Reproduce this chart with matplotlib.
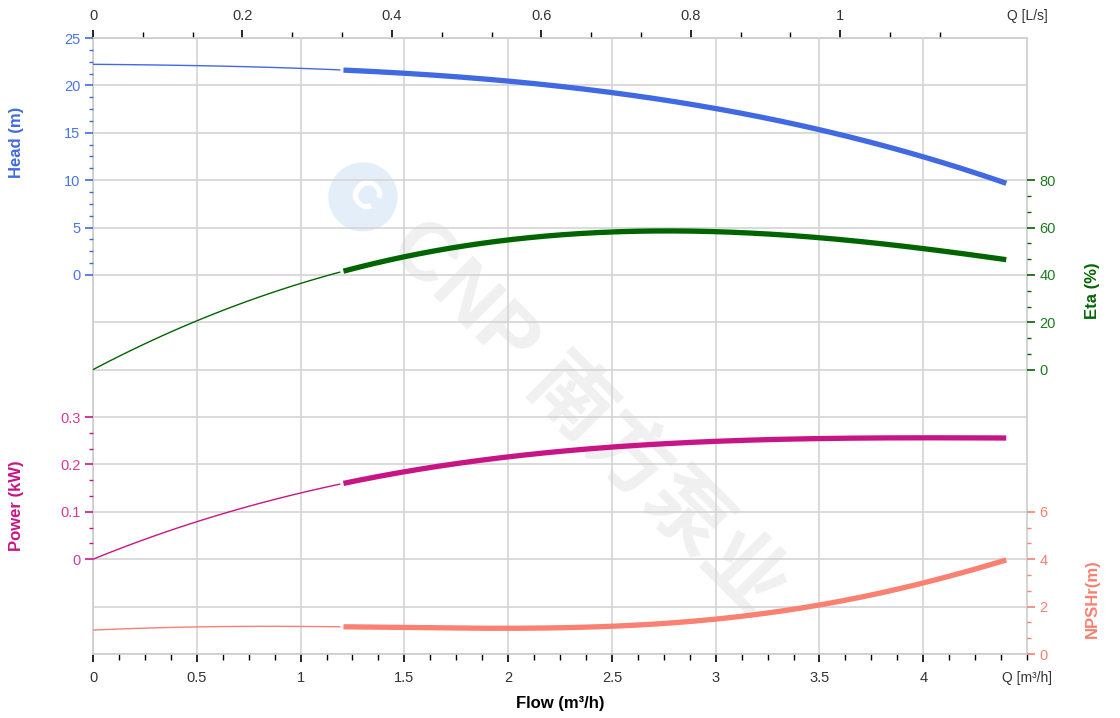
import numpy as np
import matplotlib
matplotlib.use("Agg")
import matplotlib.pyplot as plt
from matplotlib.ticker import FixedLocator, MultipleLocator, FuncFormatter

plt.rcParams['font.family'] = ['Liberation Sans', 'Noto Sans CJK SC', 'DejaVu Sans']

# curve data (flow in m3/h)
flow = [0, 0.5, 1.0, 1.2, 1.5, 2.0, 2.5, 2.8, 3.0, 3.5, 4.0, 4.4]
head = [22.2, 22.1, 21.9, 21.6, 21.2, 20.4, 19.2, 18.4, 17.6, 15.3, 12.4, 9.7]
eta = [0, 21, 35, 42, 48.4, 54.8, 57.7, 58.6, 58.3, 55.6, 51.4, 46.3]
power = [0, 0.079, 0.14, 0.159, 0.186, 0.214, 0.237, 0.245, 0.25, 0.254, 0.256, 0.256]
npsh = [1.01, 1.14, 1.18, 1.14, 1.1, 1.1, 1.18, 1.3, 1.48, 2.07, 3.0, 3.97]
duty_start = 1.2  # thin line before, thick line after

flow_ticks = [0, 0.5, 1, 1.5, 2, 2.5, 3, 3.5, 4]
ls_ticks = [0, 0.2, 0.4, 0.6, 0.8, 1.0]

c_head = '#4169E1'
c_eta = '#006400'
c_pow = '#C71585'
c_npsh = '#FA8072'


def smooth(x, y, deg):
    xs = np.linspace(x[0], x[-1], 300)
    coef = np.polyfit(x, y, deg)
    return xs, np.polyval(coef, xs)


def draw(ax, y, color, deg):
    xs, ys = smooth(flow, y, deg)
    m = xs <= duty_start
    ax.plot(xs[m], ys[m], color=color, lw=1.0, solid_capstyle='butt')
    ax.plot(xs[xs >= duty_start], ys[xs >= duty_start], color=color, lw=3.8,
            solid_capstyle='butt')


fig = plt.figure(figsize=(11.2, 7.18), dpi=100)
ax = fig.add_axes([93 / 1120, 64 / 718, 934 / 1120, 616 / 718])

# base axes: grid + flow axis
ax.set_xlim(0, 4.5)
ax.set_ylim(0, 13)
ax.yaxis.set_major_locator(MultipleLocator(1))
ax.tick_params(axis='y', length=0, labelleft=False)
ax.xaxis.set_major_locator(FixedLocator(flow_ticks))
ax.xaxis.set_minor_locator(MultipleLocator(0.125))
ax.xaxis.set_major_formatter(FuncFormatter(lambda v, p: '%g' % v))
ax.tick_params(axis='x', which='major', length=6, width=1.2, colors='black',
               labelsize=10.5, pad=6, labelcolor='#333333')
ax.tick_params(axis='x', which='minor', length=4, width=1.0, colors='black')
ax.grid(True, which='major', color='#d4d4d4', lw=1.2)
ax.set_axisbelow(True)
for s in ax.spines.values():
    s.set_color('#cccccc')
    s.set_linewidth(1.2)
ax.set_xlabel('Flow (m³/h)', fontsize=12, fontweight='bold', labelpad=8)
ax.text(1.0, -0.028, 'Q [m³/h]', transform=ax.transAxes, ha='center', va='top',
        fontsize=10, color='#333333')

# watermark
ax.text(0.528, 0.381, 'CNP 南方泵业', transform=ax.transAxes, rotation=-45,
        ha='center', va='center', fontsize=59, fontweight='bold',
        color='#f0f0f0', zorder=0)
ax.text(0.289, 0.742, 'C', transform=ax.transAxes, rotation=-45,
        ha='center', va='center', fontsize=30, fontweight='bold',
        color='white', zorder=0,
        bbox=dict(boxstyle='circle,pad=0.35', fc='#e3eef8', ec='none'))

# top axis in L/s
top = ax.secondary_xaxis('top', functions=(lambda q: q / 3.6, lambda l: l * 3.6))
top.xaxis.set_major_locator(FixedLocator(ls_ticks))
top.xaxis.set_minor_locator(FixedLocator(np.arange(0, 1.15, 0.2 / 3)))
top.xaxis.set_major_formatter(FuncFormatter(lambda v, p: '%g' % v))
top.tick_params(which='major', length=6, width=1.2, labelsize=10.5, pad=5,
                labelcolor='#333333')
top.tick_params(which='minor', length=4, width=1.0)
top.spines['top'].set_visible(False)
ax.text(1.0, 1.025, 'Q [L/s]', transform=ax.transAxes, ha='center', va='bottom',
        fontsize=10, color='#333333')


def make_axis(side, lo, hi, step, nminor, ymin, ymax, color, tcolor, label,
              lx, ly):
    a = ax.twinx()
    a.set_ylim(ymin, ymax)
    if side == 'left':
        a.yaxis.tick_left()
        a.yaxis.set_label_position('left')
    majors = np.arange(lo, hi + step / 2, step)
    minors = np.arange(lo, hi, step / nminor)
    a.yaxis.set_major_locator(FixedLocator(majors))
    a.yaxis.set_minor_locator(FixedLocator(minors))
    a.yaxis.set_major_formatter(FuncFormatter(lambda v, p: '%g' % round(v, 3)))
    a.tick_params(axis='y', which='major', length=6, width=1.2, colors=color,
                  labelcolor=tcolor, labelsize=10.5, pad=3)
    a.tick_params(axis='y', which='minor', length=3, width=1.0, colors=color)
    for s in a.spines.values():
        s.set_visible(False)
    a.set_ylabel(label, color=color, fontsize=12, fontweight='bold')
    a.yaxis.set_label_coords(lx, ly)
    return a


ax_h = make_axis('left', 0, 25, 5, 4, -40, 25, c_head, '#4a74e6', 'Head (m)',
                 -0.074, 0.83)
ax_e = make_axis('right', 0, 80, 20, 3, -120, 140, c_eta, '#1f7a1f', 'Eta (%)',
                 1.062, 0.59)
ax_p = make_axis('left', 0, 0.3, 0.1, 3, -0.2, 1.1, c_pow, '#d63a9a',
                 'Power (kW)', -0.074, 0.24)
ax_n = make_axis('right', 0, 6, 2, 3, 0, 26, c_npsh, c_npsh, 'NPSHr(m)',
                 1.062, 0.09)

draw(ax_h, head, c_head, 3)
draw(ax_e, eta, c_eta, 4)
draw(ax_p, power, c_pow, 4)
draw(ax_n, npsh, c_npsh, 5)
for a in (ax_h, ax_e, ax_p, ax_n):
    a.set_xlim(0, 4.5)

fig.savefig('out.png', dpi=100)
